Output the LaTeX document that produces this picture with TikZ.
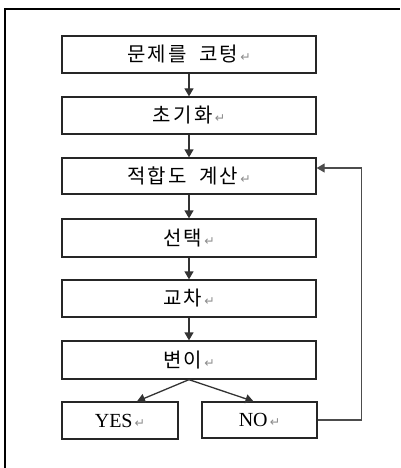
\documentclass[tikz,border=0pt]{standalone}
\usepackage{fontspec}
\setmainfont{Liberation Serif}
\newfontfamily\kr{Noto Sans CJK KR}[LetterSpace=12]
\newfontfamily\symf{DejaVu Sans}
\usetikzlibrary{arrows.meta}
\newcommand{\pmark}{{\symf\fontsize{12.5}{12.5}\selectfont\color{black!45}\,↵}}
\begin{document}
\begin{tikzpicture}[x=1pt,y=-1pt,
  box/.style={draw=black!85,line width=1.3pt,rectangle,minimum width=254pt,minimum height=37pt,inner sep=0pt,font=\kr\fontsize{20}{20}\selectfont},
  sbox/.style={box,minimum width=116pt,font=\fontsize{20}{20}\selectfont},
  arr/.style={draw=black!80,line width=1.3pt,-{Triangle[length=8pt,width=9pt]}},
  fb/.style={draw=black!70,line width=1.3pt,-{Triangle[length=8pt,width=9pt]}}]
\useasboundingbox (0,0) rectangle (400,468);
\draw[line width=1.8pt] (4,9) -- (400,9);
\draw[line width=1.8pt] (5,9) -- (5,468);
\node[box] (b1) at (189,54.5) {문제를\hspace{12pt}코텅\pmark};
\node[box] (b2) at (189,115.5) {초기화\pmark};
\node[box,minimum height=36pt] (b3) at (189,176) {적합도\hspace{12pt}계산\pmark};
\node[box,minimum height=38pt] (b4) at (189,238) {선택\pmark};
\node[box] (b5) at (189,298.5) {교차\pmark};
\node[box,minimum height=38pt] (b6) at (189,360) {변이\pmark};
\node[sbox] (yes) at (120,420.5) {YES\pmark};
\node[sbox,minimum width=115pt,minimum height=36pt] (no) at (259.5,420) {NO\pmark};
\draw[arr] (b1.south) -- (b2.north);
\draw[arr] (b2.south) -- (b3.north);
\draw[arr] (b3.south) -- (b4.north);
\draw[arr] (b4.south) -- (b5.north);
\draw[arr] (b5.south) -- (b6.north);
\draw[arr] (b6.south) -- ([xshift=17pt]yes.north);
\draw[arr] (b6.south) -- ([xshift=-6pt]no.north);
\draw[fb] (no.east) -- ++(44,0) |- ([yshift=8pt]b3.east);
\end{tikzpicture}
\end{document}
